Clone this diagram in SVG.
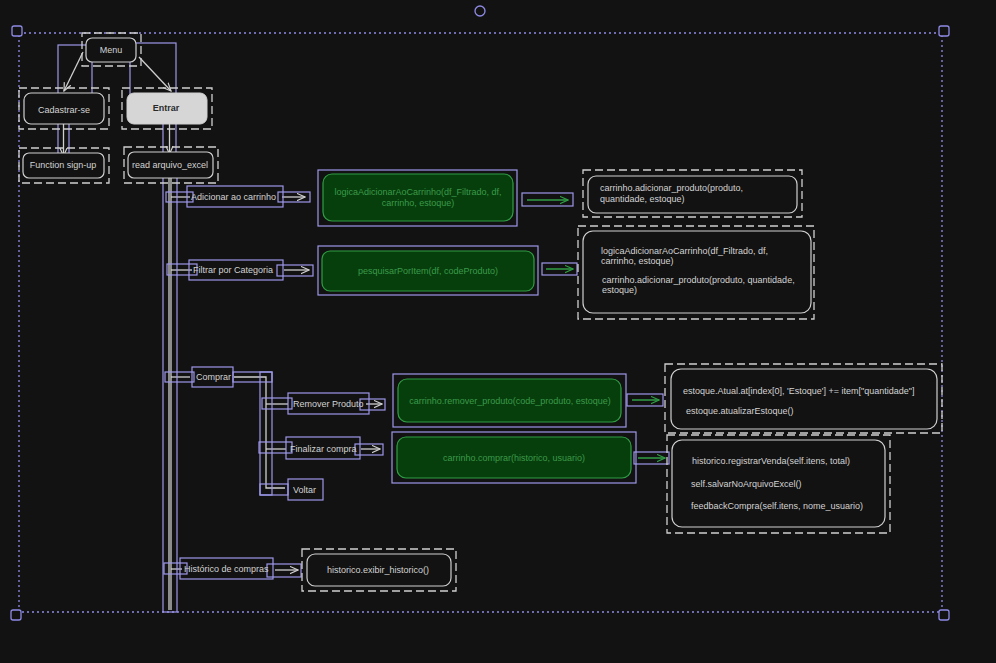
<svg xmlns="http://www.w3.org/2000/svg" width="996" height="663" viewBox="0 0 996 663">
<defs>
<marker id="ag" viewBox="0 0 10 10" refX="9" refY="5" markerWidth="9" markerHeight="9" orient="auto" markerUnits="userSpaceOnUse"><path d="M0,1 L9,5 L0,9" fill="none" stroke="#cfcfcf" stroke-width="1.3"/></marker>
<marker id="agr" viewBox="0 0 10 10" refX="9" refY="5" markerWidth="9" markerHeight="9" orient="auto" markerUnits="userSpaceOnUse"><path d="M0,1 L9,5 L0,9" fill="none" stroke="#2f9e44" stroke-width="1.3"/></marker>
</defs>
<style>
.bg{fill:#121212}
.dash{fill:none;stroke:#d0d0d0;stroke-width:1.3;stroke-dasharray:8 4}
.box{fill:#121212;stroke:#cfcfcf;stroke-width:1.2}
.sel{fill:none;stroke:#9d98ea;stroke-width:1.2}
.grn{fill:#073f0c;stroke:#2f9e44;stroke-width:1.2}
.t{font-family:"Liberation Sans",Arial,sans-serif;font-size:9px;fill:#d2d2d2}
.tc{text-anchor:middle}
.tg{font-family:"Liberation Sans",Arial,sans-serif;font-size:9px;fill:#3a9a4a;text-anchor:middle}
.ln{fill:none;stroke:#cfcfcf;stroke-width:1.3}
.lng{fill:none;stroke:#2f9e44;stroke-width:1.5}
.hdl{fill:#121212;stroke:#8f8be6;stroke-width:1.3}
</style>
<rect class="bg" x="0" y="0" width="996" height="663"/>

<!-- selection frame -->
<g id="selection">
<rect x="19" y="33" width="923" height="579" fill="none" stroke="#8f8be6" stroke-width="1.3" stroke-dasharray="2 3"/>
<rect class="hdl" x="12" y="26" width="10" height="10" rx="2"/>
<rect class="hdl" x="939" y="26" width="10" height="10" rx="2"/>
<rect class="hdl" x="11" y="610" width="10" height="10" rx="2"/>
<rect class="hdl" x="939" y="610" width="10" height="10" rx="2"/>
<circle class="hdl" cx="480" cy="11" r="5"/>
</g>

<!-- connectors -->
<g id="connectors">
<line class="ln" x1="83" y1="52" x2="64" y2="91" marker-end="url(#ag)"/>
<line class="ln" x1="139" y1="57" x2="171" y2="91" marker-end="url(#ag)"/>
<line class="ln" x1="63.5" y1="119" x2="63.5" y2="156" marker-end="url(#ag)"/>
<line class="ln" x1="169.5" y1="119" x2="169.5" y2="154" marker-end="url(#ag)"/>
<line class="ln" x1="169" y1="178" x2="169" y2="610"/>
<line class="ln" x1="171" y1="178" x2="171" y2="610"/>
<line class="ln" x1="171" y1="197" x2="190" y2="197"/>
<line class="ln" x1="282" y1="197" x2="305" y2="197" marker-end="url(#ag)"/>
<line class="ln" x1="171" y1="270" x2="192" y2="270"/>
<line class="ln" x1="284" y1="270" x2="309" y2="270" marker-end="url(#ag)"/>
<line class="ln" x1="171" y1="377" x2="190" y2="377"/>
<polyline class="ln" points="234,377 266,377 266,488 285,488"/>
<line class="ln" x1="266" y1="404" x2="288" y2="404"/>
<line class="ln" x1="266" y1="449" x2="286" y2="449"/>
<line class="ln" x1="366" y1="404" x2="382" y2="404" marker-end="url(#ag)"/>
<line class="ln" x1="361" y1="449" x2="380" y2="449" marker-end="url(#ag)"/>
<line class="ln" x1="171" y1="569" x2="182" y2="569"/>
<line class="ln" x1="275" y1="570" x2="298" y2="570" marker-end="url(#ag)"/>
<line class="lng" x1="527" y1="200" x2="568" y2="200" marker-end="url(#agr)"/>
<line class="lng" x1="546" y1="269" x2="573" y2="269" marker-end="url(#agr)"/>
<line class="lng" x1="632" y1="400" x2="659" y2="400" marker-end="url(#agr)"/>
<line class="lng" x1="638" y1="458" x2="665" y2="458" marker-end="url(#agr)"/>
<!-- selection boxes of connectors -->
<rect class="sel" x="58" y="45" width="34" height="53"/>
<rect class="sel" x="130" y="43" width="46" height="55"/>
<rect class="sel" x="58" y="118" width="11" height="41"/>
<rect class="sel" x="163" y="118" width="13" height="39"/>
<rect class="sel" x="163" y="172" width="14" height="440"/>
<rect class="sel" x="166" y="192" width="27" height="10"/>
<rect class="sel" x="278" y="192" width="32" height="10"/>
<rect class="sel" x="167" y="264" width="30" height="11"/>
<rect class="sel" x="277" y="265" width="36" height="11"/>
<rect class="sel" x="165" y="372" width="29" height="10"/>
<rect class="sel" x="233" y="372" width="39" height="10"/>
<rect class="sel" x="260" y="372" width="12" height="123"/>
<rect class="sel" x="262" y="398" width="30" height="11"/>
<rect class="sel" x="360" y="399" width="25" height="11"/>
<rect class="sel" x="259" y="442" width="33" height="11"/>
<rect class="sel" x="355" y="444" width="28" height="11"/>
<rect class="sel" x="260" y="484" width="28" height="11"/>
<rect class="sel" x="164" y="563" width="23" height="11"/>
<rect class="sel" x="267" y="564" width="34" height="13"/>
<rect class="sel" x="522" y="193" width="51" height="13"/>
<rect class="sel" x="542" y="263" width="35" height="12"/>
<rect class="sel" x="627" y="394" width="36" height="12"/>
<rect class="sel" x="634" y="452" width="35" height="12"/>
</g>

<g id="menu">
<rect class="dash" x="82" y="33" width="59" height="33"/>
<rect class="box" x="86" y="38" width="50" height="24" rx="6"/>
<text class="t tc" x="111" y="53">Menu</text>
</g>
<g id="cadastrar">
<rect class="dash" x="19" y="88" width="90" height="41"/>
<rect class="box" x="24" y="93" width="80" height="31" rx="7"/>
<text class="t tc" x="64" y="113">Cadastrar-se</text>
</g>
<g id="entrar">
<rect class="dash" x="122" y="88" width="90" height="41"/>
<rect x="127" y="93" width="80" height="31" rx="7" fill="#d6d6d6" stroke="#cfcfcf"/>
<text class="t tc" x="166" y="111" style="fill:#2a2a2a;font-weight:bold">Entrar</text>
</g>
<g id="signup">
<rect class="dash" x="19" y="148" width="90" height="35"/>
<rect class="box" x="23" y="153" width="81" height="25" rx="6"/>
<text class="t tc" x="63" y="168">Function sign-up</text>
</g>
<g id="readexcel">
<rect class="dash" x="124" y="147" width="94" height="36"/>
<rect class="box" x="128" y="152" width="85" height="26" rx="6"/>
<text class="t tc" x="170" y="168">read arquivo_excel</text>
</g>

<g id="adicionar">
<rect class="sel" x="187" y="186" width="96" height="21"/>
<text class="t" x="191" y="200">Adicionar ao carrinho</text>
</g>
<g id="filtrar">
<rect class="sel" x="189" y="260" width="94" height="20"/>
<text class="t" x="193" y="273">Filtrar por Categoria</text>
</g>
<g id="comprar">
<rect class="sel" x="192" y="367" width="41" height="20"/>
<text class="t" x="196" y="380">Comprar</text>
</g>
<g id="remover">
<rect class="sel" x="288" y="393" width="81" height="21"/>
<text class="t" x="293" y="407">Remover Produto</text>
</g>
<g id="finalizar">
<rect class="sel" x="286" y="437" width="74" height="22"/>
<text class="t" x="290" y="452">Finalizar compra</text>
</g>
<g id="voltar">
<rect class="sel" x="288" y="479" width="35" height="21"/>
<text class="t" x="293" y="493">Voltar</text>
</g>
<g id="historico">
<rect class="sel" x="180" y="558" width="93" height="21"/>
<text class="t" x="184" y="572">Histórico de compras</text>
</g>

<g id="logicaAdicionar">
<rect class="sel" x="318" y="170" width="199" height="56"/>
<rect class="grn" x="323" y="174" width="190" height="47" rx="9"/>
<text class="tg" x="418" y="195">logicaAdicionarAoCarrinho(df_Filtrado, df,</text>
<text class="tg" x="418" y="206">carrinho, estoque)</text>
</g>
<g id="pesquisar">
<rect class="sel" x="318" y="246" width="220" height="49"/>
<rect class="grn" x="322" y="251" width="212" height="40" rx="8"/>
<text class="tg" x="428" y="274">pesquisarPorItem(df, codeProduto)</text>
</g>
<g id="removerProduto">
<rect class="sel" x="393" y="374" width="233" height="53"/>
<rect class="grn" x="398" y="379" width="223" height="43" rx="9"/>
<text class="tg" x="510" y="404">carrinho.remover_produto(code_produto, estoque)</text>
</g>
<g id="comprarFn">
<rect class="sel" x="392" y="432" width="244" height="51"/>
<rect class="grn" x="397" y="437" width="234" height="41" rx="9"/>
<text class="tg" x="514" y="461">carrinho.comprar(historico, usuario)</text>
</g>

<g id="res1">
<rect class="dash" x="583" y="170" width="219" height="47"/>
<rect class="box" x="588" y="176" width="209" height="37" rx="8"/>
<text class="t" x="600" y="191">carrinho.adicionar_produto(produto,</text>
<text class="t" x="600" y="202">quantidade, estoque)</text>
</g>
<g id="res2">
<rect class="dash" x="578" y="226" width="236" height="93"/>
<rect class="box" x="583" y="231" width="228" height="82" rx="10"/>
<text class="t" x="601" y="254">logicaAdicionarAoCarrinho(df_Filtrado, df,</text>
<text class="t" x="601" y="264">carrinho, estoque)</text>
<text class="t" x="602" y="283">carrinho.adicionar_produto(produto, quantidade,</text>
<text class="t" x="602" y="293">estoque)</text>
</g>
<g id="res3">
<rect class="dash" x="665" y="364" width="277" height="69"/>
<rect class="box" x="671" y="369" width="266" height="60" rx="10"/>
<text class="t" x="683" y="394">estoque.Atual.at[index[0], 'Estoque'] += item["quantidade"]</text>
<text class="t" x="686" y="414">estoque.atualizarEstoque()</text>
</g>
<g id="res4">
<rect class="dash" x="667" y="435" width="223" height="98"/>
<rect class="box" x="672" y="440" width="213" height="87" rx="10"/>
<text class="t" x="692" y="464">historico.registrarVenda(self.itens, total)</text>
<text class="t" x="691" y="487">self.salvarNoArquivoExcel()</text>
<text class="t" x="691" y="509">feedbackCompra(self.itens, nome_usuario)</text>
</g>
<g id="res5">
<rect class="dash" x="302" y="549" width="154" height="42"/>
<rect class="box" x="307" y="554" width="144" height="32" rx="8"/>
<text class="t tc" x="378" y="573">historico.exibir_historico()</text>
</g>
</svg>
